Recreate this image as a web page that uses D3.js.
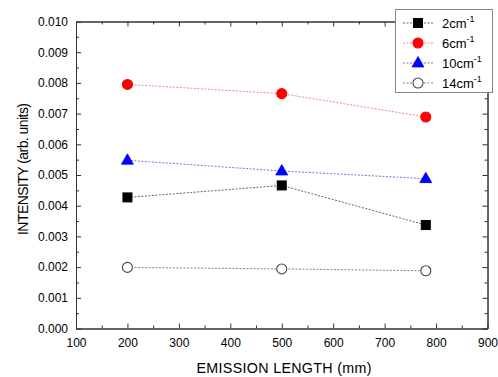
<!DOCTYPE html>
<html><head><meta charset="utf-8">
<script src="https://cdn.jsdelivr.net/npm/d3@7"></script>
<style>body{margin:0;background:#fff}svg{display:block}text{font-family:"Liberation Sans",Arial,sans-serif}</style>
</head><body><svg id="c" width="498" height="377"></svg>
<script>
const lengths = [200, 500, 780];
const s2 = [0.00427, 0.00466, 0.00337];
const s6 = [0.00795, 0.00765, 0.00689];
const s10 = [0.00548, 0.00513, 0.00488];
const s14 = [0.00199, 0.00194, 0.00188];
const seriesNames = ["2", "6", "10", "14"];
const xTicks = [100,200,300,400,500,600,700,800,900];
const yTicks = [0,0.001,0.002,0.003,0.004,0.005,0.006,0.007,0.008,0.009,0.010];

const series = [
  {name: seriesNames[0], vals: s2, shape: "square", fill: "#000", stroke: "#000", line: "#555"},
  {name: seriesNames[1], vals: s6, shape: "circle", fill: "#ff0000", stroke: "#ff0000", line: "#e08080"},
  {name: seriesNames[2], vals: s10, shape: "triangle", fill: "#0000ff", stroke: "#0000ff", line: "#6a6ad0"},
  {name: seriesNames[3], vals: s14, shape: "circle", fill: "#fff", stroke: "#444", line: "#777"}
];

const svg = d3.select("#c");
const L = 76, R = 487.5, T = 21.5, B = 328.5;
const x = d3.scaleLinear().domain([100, 900]).range([L, R]);
const y = d3.scaleLinear().domain([0, 0.010]).range([B, T]);

function marker(g, shape, fill, stroke) {
  if (shape === "square") {
    g.append("rect").attr("x", -4.5).attr("y", -4.5).attr("width", 9).attr("height", 9)
      .attr("fill", fill).attr("stroke", stroke).attr("stroke-width", 1);
  } else if (shape === "circle") {
    g.append("circle").attr("r", 5).attr("fill", fill).attr("stroke", stroke).attr("stroke-width", 1.1);
  } else {
    g.append("path").attr("d", d3.symbol(d3.symbolTriangle, 62)()).attr("transform", "translate(0,0.5)")
      .attr("fill", fill).attr("stroke", stroke).attr("stroke-width", 0.8);
  }
}

// Axes with inward ticks
const frame = "#333";
const xMinor = d3.range(150, 900, 100);
const yMinor = d3.range(0.0005, 0.010, 0.001);
function ax(gen, tx, ty) {
  const g = svg.append("g").attr("transform", `translate(${tx},${ty})`).call(gen);
  g.selectAll("path.domain").attr("stroke", frame);
  g.selectAll(".tick line").attr("stroke", frame);
  g.selectAll("text").attr("fill", "#000").style("font-size", "12px");
  return g;
}
// bottom
ax(d3.axisBottom(x).tickValues(xTicks).tickSize(-5).tickPadding(10).tickSizeOuter(0).tickFormat(d3.format("d")), 0, B);
ax(d3.axisBottom(x).tickValues(xMinor).tickSize(-3).tickSizeOuter(0).tickFormat(""), 0, B);
// top
ax(d3.axisTop(x).tickValues(xTicks).tickSize(-5).tickSizeOuter(0).tickFormat(""), 0, T);
ax(d3.axisTop(x).tickValues(xMinor).tickSize(-3).tickSizeOuter(0).tickFormat(""), 0, T);
// left
ax(d3.axisLeft(y).tickValues(yTicks).tickSize(-5).tickPadding(8).tickSizeOuter(0).tickFormat(d3.format(".3f")), L, 0);
ax(d3.axisLeft(y).tickValues(yMinor).tickSize(-3).tickSizeOuter(0).tickFormat(""), L, 0);
// right
ax(d3.axisRight(y).tickValues(yTicks).tickSize(-5).tickSizeOuter(0).tickFormat(""), R, 0);
ax(d3.axisRight(y).tickValues(yMinor).tickSize(-3).tickSizeOuter(0).tickFormat(""), R, 0);

// Lines and markers
const line = d3.line().x((d, i) => x(lengths[i])).y(d => y(d));
series.forEach(s => {
  svg.append("path").attr("d", line(s.vals)).attr("fill", "none")
    .attr("stroke", s.line).attr("stroke-width", 0.9).attr("stroke-dasharray", "2,1.5");
  s.vals.forEach((v, i) => {
    const g = svg.append("g").attr("transform", `translate(${x(lengths[i])},${y(v)})`);
    marker(g, s.shape, s.fill, s.stroke);
  });
});

// Axis titles
svg.append("text").attr("x", 284).attr("y", 373).attr("text-anchor", "middle")
  .attr("textLength", 175).attr("lengthAdjust", "spacing")
  .style("font-size", "14.3px").text("EMISSION LENGTH (mm)");
svg.append("text").attr("transform", "translate(28,169) rotate(-90)").attr("text-anchor", "middle")
  .attr("textLength", 132).attr("lengthAdjust", "spacing")
  .style("font-size", "14px").text("INTENSITY (arb. units)");

// Legend
const lg = svg.append("g");
lg.append("rect").attr("x", 395.5).attr("y", 9.5).attr("width", 97).attr("height", 83)
  .attr("fill", "#fff").attr("stroke", "#888").attr("stroke-width", 1);
series.forEach((s, i) => {
  const cy = 23 + i * 20;
  lg.append("line").attr("x1", 403).attr("x2", 433).attr("y1", cy).attr("y2", cy)
    .attr("stroke", s.line).attr("stroke-width", 0.9).attr("stroke-dasharray", "2,1.5");
  const g = lg.append("g").attr("transform", `translate(418,${cy})`);
  marker(g, s.shape, s.fill, s.stroke);
  const t = lg.append("text").attr("x", 442).attr("y", cy + 5).style("font-size", "13px").attr("fill", "#000");
  t.append("tspan").text(s.name + "cm");
  t.append("tspan").attr("dy", -6).style("font-size", "9px").text("-1");
});
</script></body></html>
